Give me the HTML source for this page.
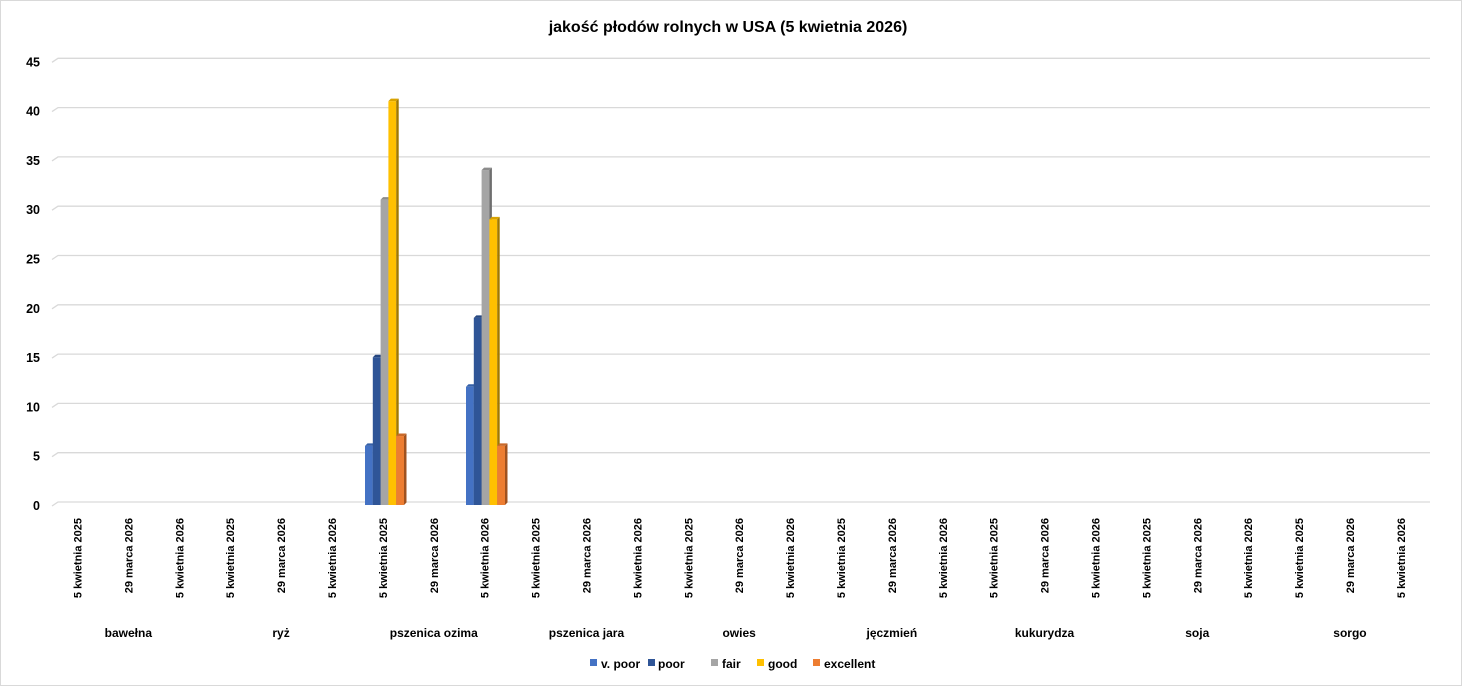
<!DOCTYPE html>
<html><head><meta charset="utf-8"><style>
body{margin:0;background:#fff}
svg{display:block;font-family:"Liberation Sans","DejaVu Sans",sans-serif}
</style></head><body>
<svg width="1462" height="686" viewBox="0 0 1462 686">
<rect x="0.5" y="0.5" width="1461" height="685" fill="#fff" stroke="#d9d9d9"/>
<text x="728" y="32" font-size="16" font-weight="bold" text-anchor="middle" fill="#000">jakość płodów rolnych w USA (5 kwietnia 2026)</text>
<g stroke="#d9d9d9" stroke-width="1.3" fill="none" id="grid"></g>
<g font-size="12.5" font-weight="bold" fill="#000" text-anchor="end" id="ylab"></g>
<g id="bars"></g>
<g font-size="11" font-weight="bold" fill="#000" id="xlab"></g>
<g font-size="12" font-weight="bold" fill="#000" text-anchor="middle" id="glab"></g>
<g font-size="12" font-weight="bold" fill="#000">
<rect x="590" y="659" width="7" height="7" fill="#4472c4"/><text x="601" y="668">v. poor</text>
<rect x="648" y="659" width="7" height="7" fill="#2f5597"/><text x="658" y="668">poor</text>
<rect x="711" y="659" width="7" height="7" fill="#a5a5a5"/><text x="722" y="668">fair</text>
<rect x="757" y="659" width="7" height="7" fill="#ffc000"/><text x="768" y="668">good</text>
<rect x="813" y="659" width="7" height="7" fill="#ed7d31"/><text x="824" y="668">excellent</text>
</g>
</svg>
<script>
const NS="http://www.w3.org/2000/svg";
function el(p,t,a,txt){const e=document.createElementNS(NS,t);for(const k in a)e.setAttribute(k,a[k]);if(txt!==undefined)e.textContent=txt;document.getElementById(p).appendChild(e);return e;}
for(let i=0;i<=9;i++){const y=502-i*49.3;
el('grid','path',{d:`M52 ${y+4} L58 ${y} L1430 ${y}`});
el('ylab','text',{x:40,y:y+8},String(i*5));}
const dates=["5 kwietnia 2025","29 marca 2026","5 kwietnia 2026"];
const groups=["bawełna","ryż","pszenica ozima","pszenica jara","owies","jęczmień","kukurydza","soja","sorgo"];
for(let i=0;i<27;i++){const cx=52+50.9*(i+0.5);
el('xlab','text',{x:0,y:0,transform:`translate(${cx+4},518) rotate(-90)`,'text-anchor':'end'},dates[i%3]);}
groups.forEach((g,j)=>el('glab','text',{x:52+50.9*(3*j+1.5),y:637},g));
const cols=[["#4472c4","#3560a8","#2c4f8a"],["#2f5597","#264780","#1e3866"],["#a5a5a5","#8c8c8c","#6e6e6e"],["#ffc000","#d9a300","#a07800"],["#ed7d31","#c9692a","#a0521f"]];
function bars(x0,vals){vals.forEach((v,k)=>{const x=x0+k*7.8,w=7.8,top=505-9.85*v,d=2.5;
el('bars','rect',{x:x,y:top,width:w,height:505-top,fill:cols[k][0]});
el('bars','path',{d:`M${x+w} ${top} L${x+w+d} ${top-d} L${x+w+d} ${505-d} L${x+w} 505Z`,fill:cols[k][2]});
el('bars','path',{d:`M${x} ${top} L${x+d} ${top-d} L${x+w+d} ${top-d} L${x+w} ${top}Z`,fill:cols[k][1]});});}
bars(365,[6,15,31,41,7]);
bars(466,[12,19,34,29,6]);
</script>
</body></html>
